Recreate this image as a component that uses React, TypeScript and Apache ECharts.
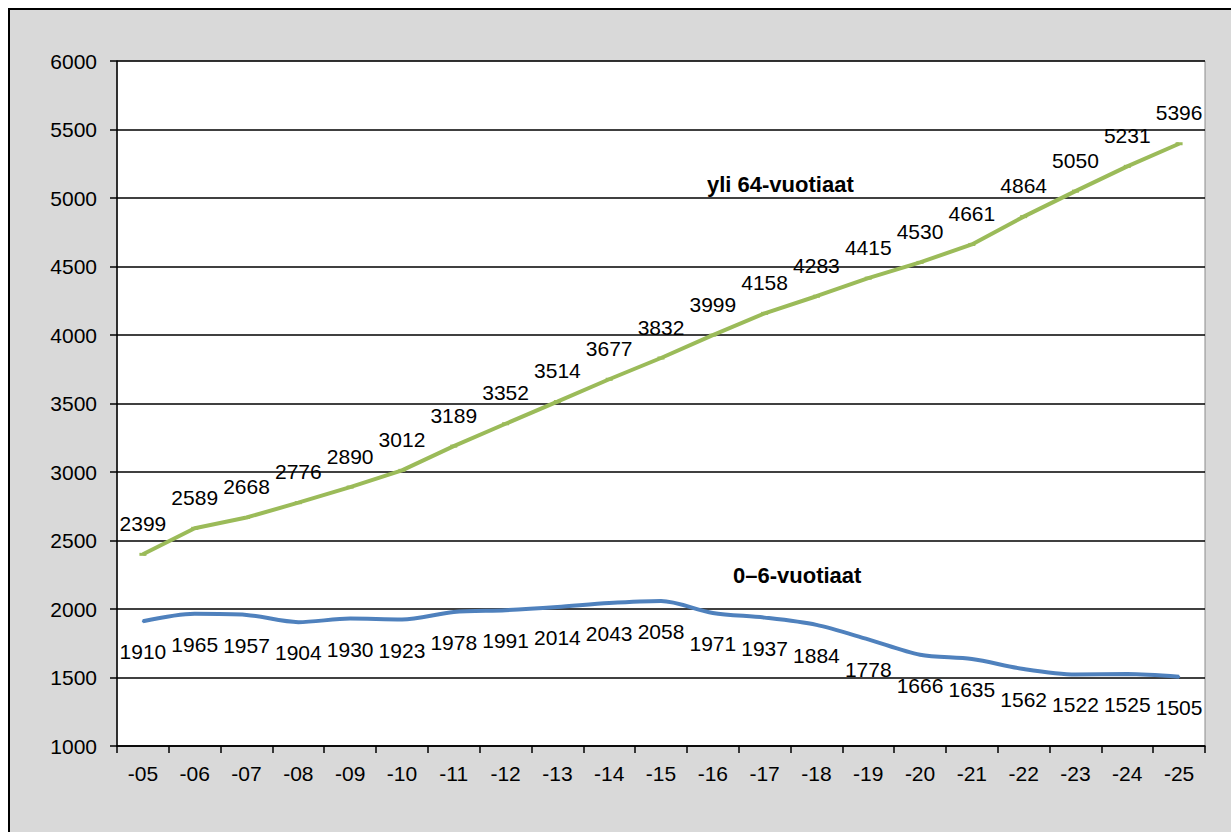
import React, { useEffect, useRef } from "react";
import * as echarts from "echarts";

const categories = ["-05","-06","-07","-08","-09","-10","-11","-12","-13","-14","-15","-16","-17","-18","-19","-20","-21","-22","-23","-24","-25"];
const over64 = [2399,2589,2668,2776,2890,3012,3189,3352,3514,3677,3832,3999,4158,4283,4415,4530,4661,4864,5050,5231,5396];
const age0to6 = [1910,1965,1957,1904,1930,1923,1978,1991,2014,2043,2058,1971,1937,1884,1778,1666,1635,1562,1522,1525,1505];
const seriesNames = ["yli 64-vuotiaat", "0–6-vuotiaat"];

const FONT = "'Liberation Sans', Arial, sans-serif";

export default function App() {
  const ref = useRef<HTMLDivElement>(null);
  useEffect(() => {
    if (!ref.current) return;
    const chart = echarts.init(ref.current, null, { renderer: "svg" });
    chart.setOption({
      animation: false,
      backgroundColor: "#d9d9d9",
      textStyle: { fontFamily: FONT },
      grid: {
        left: 107, top: 51, right: 26, bottom: 86,
        show: true, backgroundColor: "#ffffff", borderColor: "#8c8c8c", borderWidth: 1,
      },
      xAxis: {
        type: "category",
        data: categories,
        boundaryGap: true,
        axisLine: { show: true, lineStyle: { color: "#000", width: 1.5 } },
        axisTick: { show: true, alignWithLabel: false, length: 7, lineStyle: { color: "#000", width: 1.5 } },
        axisLabel: { color: "#000", fontSize: 21, fontFamily: FONT, margin: 17, interval: 0 },
        splitLine: { show: false },
      },
      yAxis: {
        type: "value",
        min: 1000, max: 6000, interval: 500,
        axisLine: { show: true, lineStyle: { color: "#000", width: 1.5 } },
        axisTick: { show: true, length: 7, lineStyle: { color: "#000", width: 1.5 } },
        axisLabel: { color: "#000", fontSize: 21, fontFamily: FONT, margin: 20, formatter: (v: number) => String(v) },
        splitLine: { show: true, lineStyle: { color: "#000", width: 1.5 } },
      },
      graphic: [
        { type: "text", left: 697, top: 163, style: { text: seriesNames[0], font: `bold 22px ${FONT}`, fill: "#000" } },
        { type: "text", left: 723, top: 554, style: { text: seriesNames[1], font: `bold 22px ${FONT}`, fill: "#000" } },
      ],
      series: [
        {
          name: seriesNames[0],
          type: "line",
          data: over64,
          symbol: "rect",
          symbolSize: [7, 3],
          itemStyle: { color: "#9bbb59" },
          lineStyle: { color: "#9bbb59", width: 4 },
          label: { show: true, position: "top", distance: 19, color: "#000", fontSize: 21, fontFamily: FONT },
        },
        {
          name: seriesNames[1],
          type: "line",
          data: age0to6,
          smooth: 0.3,
          symbol: "rect",
          symbolSize: [2, 2],
          itemStyle: { color: "#4f81bd" },
          lineStyle: { color: "#4f81bd", width: 4 },
          label: { show: true, position: "bottom", distance: 19, color: "#000", fontSize: 21, fontFamily: FONT },
        },
      ],
    });
    return () => chart.dispose();
  }, []);
  return (
    <div style={{ position: "absolute", left: 8, top: 8, width: 1223, height: 824, borderLeft: "2px solid #000", borderTop: "2px solid #000", boxSizing: "border-box", background: "#d9d9d9" }}>
      <div ref={ref} style={{ width: 1221, height: 822 }} />
    </div>
  );
}
